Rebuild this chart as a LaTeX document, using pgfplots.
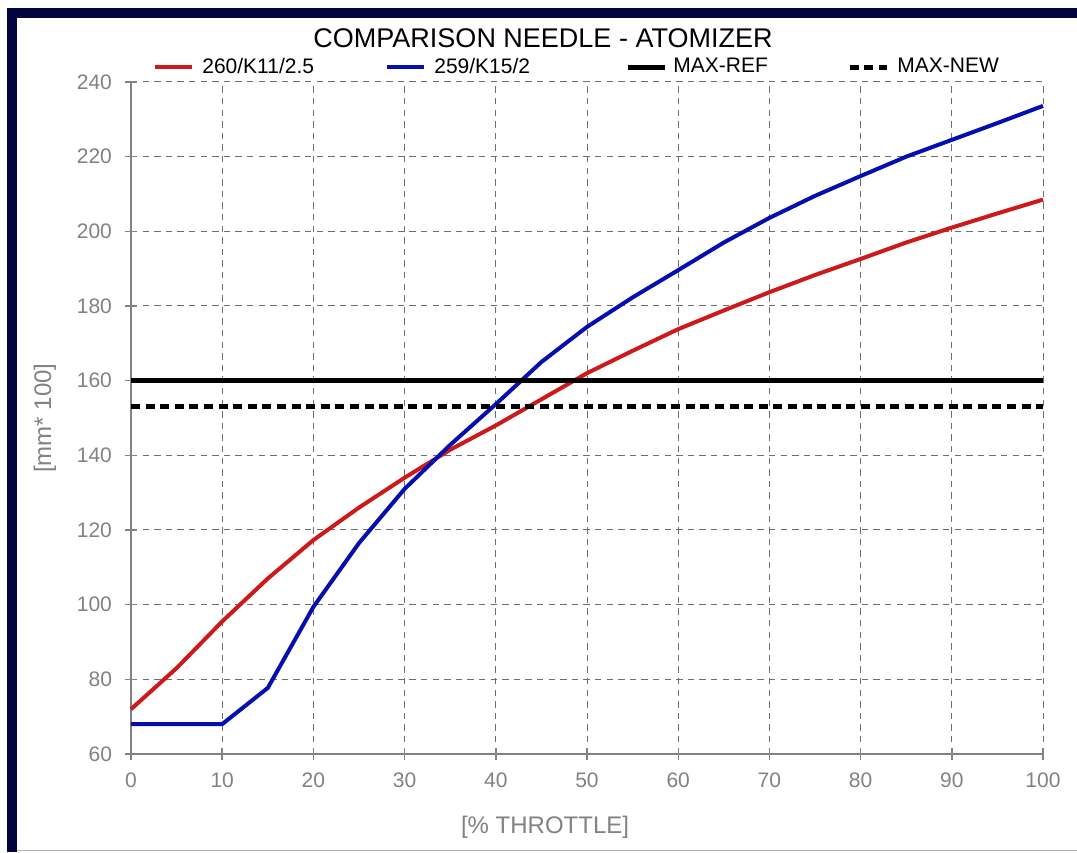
\documentclass[border=0pt]{standalone}
\usepackage{pgfplots}
\pgfplotsset{compat=1.18}
\usepackage{fontspec}
\setmainfont{Liberation Sans}
\definecolor{navyframe}{RGB}{2,2,60}
\definecolor{redline}{RGB}{205,25,25}
\definecolor{blueline}{RGB}{5,15,175}
\definecolor{gridgrey}{RGB}{110,110,110}
\definecolor{labgrey}{RGB}{130,130,130}
\begin{document}
\begin{tikzpicture}[x=1pt,y=1pt]
\useasboundingbox (0,0) rectangle (538.5,426);
\fill[white] (0,0) rectangle (538.5,426);
\fill[navyframe] (3.5,0) rectangle (8.5,422);
\fill[navyframe] (3.5,417) rectangle (538.5,422);
\draw[line width=0.8pt, gray!60] (8.5,0.8) -- (538.5,0.8);
\begin{axis}[
  at={(65.5pt,49pt)}, anchor=origin,
  scale only axis, width=456pt, height=336pt,
  xmin=0, xmax=100, ymin=60, ymax=240,
  xtick={0,10,...,100}, ytick={60,80,...,240},
  axis lines=left, axis line style={-, labgrey, line width=0.8pt},
  tick align=center, major tick length=6pt, tick style={labgrey, line width=0.7pt},
  tickpos=left,
  grid=major, major grid style={gridgrey, line width=0.5pt, dash pattern=on 3.2pt off 2.6pt},
  ticklabel style={font=\fontsize{10.5}{12}\selectfont, text=labgrey},
  /pgf/number format/assume math mode=true,
  xticklabel style={yshift=-3pt},
  yticklabel style={xshift=-3pt},
  xlabel={[\% THROTTLE]}, ylabel={[mm* 100]},
  label style={font=\fontsize{12}{14}\selectfont, text=labgrey},
  xlabel style={at={(axis description cs:0.454,-0.1086)}, anchor=center},
  ylabel style={at={(axis description cs:-0.0943,0.5)}, anchor=center},
  clip=false,
  legend columns=4,
  legend style={draw=none, fill=none, at={(axis description cs:0.0241,1.0223)}, anchor=west,
    font=\fontsize{10.5}{12}\selectfont, inner sep=0pt,
    /tikz/every even column/.append style={column sep=0pt}},
  legend image code/.code={\draw[#1] (0pt,0pt) -- (18.5pt,0pt);},
]
\addplot[redline, line width=2pt] coordinates {
(0,72) (5,83) (10,95.5) (15,107) (20,117.3) (25,126) (30,134) (35,141.5) (40,148) (45,155) (50,162) (55,168) (60,173.8) (65,178.8) (70,183.7) (75,188.3) (80,192.6) (85,197) (90,201) (95,204.8) (100,208.5)};
\addlegendentry{\makebox[91.5pt][l]{\hspace{2pt}260/K11/2.5}}
\addplot[blueline, line width=2pt] coordinates {
(0,68) (10,68) (15,77.7) (20,99.4) (25,116.5) (30,131) (35,142.8) (40,153.7) (45,165) (50,174.4) (55,182.3) (60,189.6) (65,197) (70,203.6) (75,209.5) (80,214.8) (85,220) (90,224.5) (95,229) (100,233.6)};
\addlegendentry{\makebox[95.5pt][l]{\hspace{2pt}259/K15/2}}
\addplot[black, line width=2.5pt] coordinates {(0,160) (100,160)};
\addlegendentry{\makebox[86pt][l]{\hspace{1pt}MAX-REF}}
\addplot[black, line width=2.5pt, dash pattern=on 4.5pt off 2.8pt] coordinates {(0,153.2) (100,153.2)};
\addlegendentry{\hspace{2pt}MAX-NEW}
\end{axis}
\node[font=\fontsize{13.5}{15}\selectfont] at (271.5,407) {COMPARISON NEEDLE - ATOMIZER};
\end{tikzpicture}
\end{document}
